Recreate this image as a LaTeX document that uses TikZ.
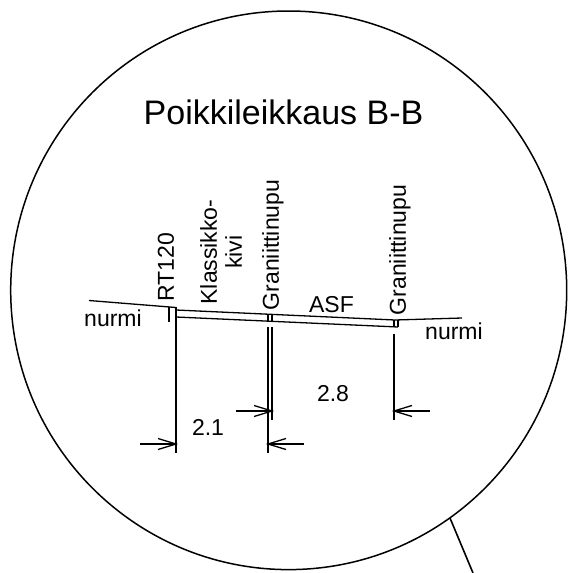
\documentclass[tikz,border=0pt]{standalone}
\usepackage{fontspec}
\setmainfont{Liberation Sans}
\begin{document}
\begin{tikzpicture}[x=1pt,y=-1pt,
  ln/.style={line width=1.6pt,black},
  thin ln/.style={line width=1.3pt,black},
  txt/.style={inner sep=0pt,font=\fontsize{23}{25}\selectfont},
  vtxt/.style={txt,rotate=90,anchor=center}]
\useasboundingbox (0,0) rectangle (572,573);
\fill[white] (0,0) rectangle (572,573);
\draw[line width=1.5pt] (288.7,290.3) ellipse [x radius=278, y radius=279.3];
\draw[ln] (450,518) -- (473,573);
\node[inner sep=0pt,font=\fontsize{34}{36}\selectfont] (title) at (283.5,112) {Poikkileikkaus B-B};
% ground and slab
\draw[thin ln] (89,300.5) -- (176,307.5);
\draw[thin ln] (169,307) -- (169,322);
\draw[ln] (176,307) -- (176,453);
\draw[thin ln] (176,310) -- (395,320) -- (462,318);
\draw[thin ln] (176,317) -- (398,327);
\draw[thin ln] (268,314) -- (268,322);
\draw[thin ln] (272,314) -- (272,322);
\draw[thin ln] (398,320) -- (398,327);
\draw[thin ln] (394,320) -- (394,327);
\draw[ln] (268,327) -- (268,453);
\draw[thin ln] (272,327) -- (272,420);
\draw[ln] (394,334) -- (394,420);
% dimension arrows
\draw[thin ln] (140,444) -- (176,444);
\draw[thin ln] (158,438.5) -- (176,444) -- (158,449.5);
\draw[thin ln] (236,411) -- (272,411);
\draw[thin ln] (254,405.5) -- (272,411) -- (254,416.5);
\draw[thin ln] (268,444) -- (304,444);
\draw[thin ln] (286,438.5) -- (268,444) -- (286,449.5);
\draw[thin ln] (394,411) -- (430,411);
\draw[thin ln] (412,405.5) -- (394,411) -- (412,416.5);
% labels
\node[txt] (n1) at (113,318) {nurmi};
\node[txt] (n2) at (454,331) {nurmi};
\node[txt] (asf) at (331.5,305) {ASF};
\node[txt] (d1) at (208,427) {2.1};
\node[txt] (d2) at (333,394) {2.8};
\node[vtxt] (rt) at (166,267.5) {RT120};
\node[vtxt,align=center,font=\fontsize{23}{25}\selectfont] (kl) at (221,252) {Klassikko-\\kivi};
\node[vtxt] (g1) at (273,245) {Graniittinupu};
\node[vtxt] (g2) at (400,250) {Graniittinupu};
\end{tikzpicture}
\end{document}
